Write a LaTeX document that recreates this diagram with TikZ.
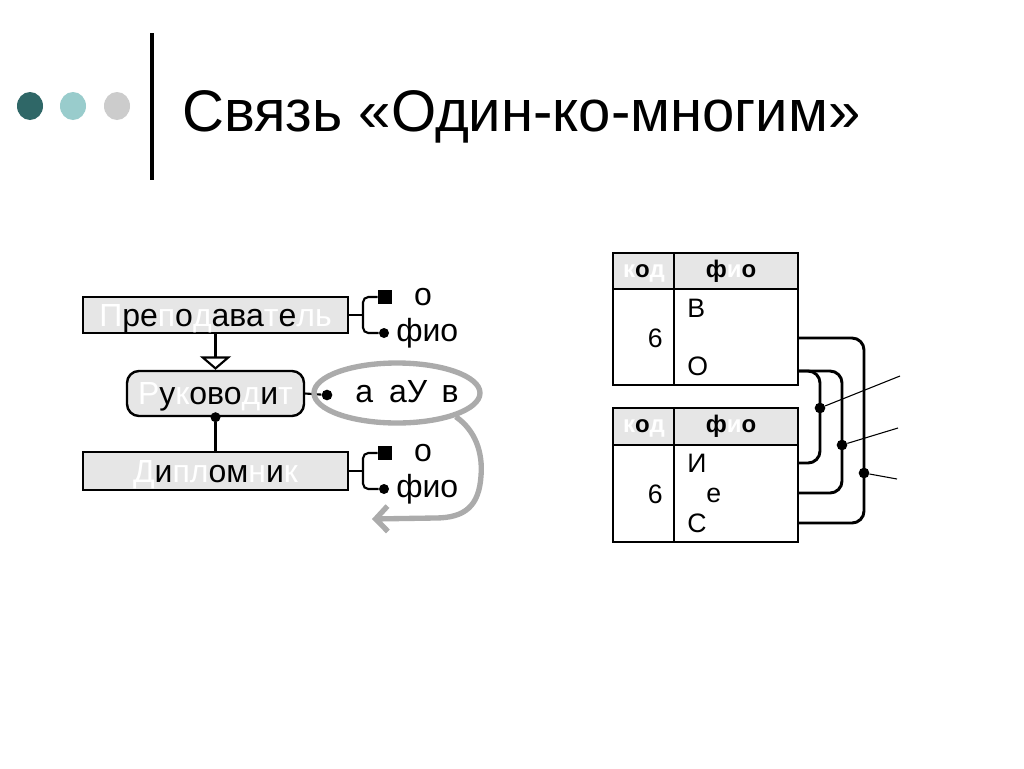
\documentclass[tikz,border=0pt]{standalone}
\usepackage{fontspec}
\setmainfont{Liberation Sans}
\usetikzlibrary{arrows.meta,shapes.geometric}
\definecolor{boxgray}{HTML}{E6E6E6}
\definecolor{ellgray}{HTML}{ABABAB}
\definecolor{dotA}{HTML}{2F6767}
\definecolor{dotB}{HTML}{99CCCC}
\definecolor{dotC}{HTML}{CCCCCC}
\newcommand\wt[1]{\textcolor{white}{#1}}
\tikzset{
  box/.style={draw, line width=1.8pt, fill=boxgray, inner sep=0pt,
    font=\fontsize{24}{28}\selectfont, text height=17pt, text depth=0pt},
  attr/.style={font=\fontsize{24}{28}\selectfont, inner sep=0pt},
  sq/.style={fill=black, minimum size=10.5pt, inner sep=0pt},
  dot/.style={circle, fill=black, minimum size=7.5pt, inner sep=0pt},
  tdot/.style={circle, fill=black, minimum size=8pt, inner sep=0pt},
  conn/.style={line width=1.6pt},
  tline/.style={line width=2.2pt, rounded corners=9pt},
  thin/.style={line width=0.8pt},
  tbody/.style={font=\fontsize{20}{24}\selectfont, inner sep=0pt},
  thead/.style={font=\fontsize{18}{21}\selectfont\bfseries, inner sep=0pt, anchor=base},
  tframe/.style={draw, line width=0.9pt},
  deco/.style={ellipse, inner sep=0pt, minimum width=19.5pt, minimum height=21pt}
}
\begin{document}
\begin{tikzpicture}[x=0.75pt,y=-0.75pt]
\useasboundingbox[fill=white] (0,0) rectangle (1024,768);

% title decorations
\node[deco, fill=dotA] (d1) at (30,106) {};
\node[deco, fill=dotB] (d2) at (73,106) {};
\node[deco, fill=dotC] (d3) at (117,106) {};
\draw[line width=3pt] (152,33) -- (152,180);
\node[anchor=base west, inner sep=0pt, font=\fontsize{44}{50}\selectfont, xscale=0.99] (title) at (182,131) {Связь «Один-ко-многим»};

% left diagram
\node[box, minimum width=198.75pt, minimum height=27pt] (prep) at (215.5,315)
  {\wt{П}ре\wt{п}о\wt{д}ава\wt{т}е\wt{ль}};
\node[box, rounded corners=9pt, minimum width=132.75pt, minimum height=33.75pt] (ruk) at (215.5,393.5)
  {\wt{Р}у\wt{к}ово\wt{д}и\wt{т}};
\node[box, minimum width=198.75pt, minimum height=28.5pt] (dip) at (215.5,471)
  {\wt{Д}и\wt{пл}ом\wt{н}и\wt{к}};

\draw[conn, -{Triangle[open, length=10pt, width=23pt, fill=white]}] (prep.south) -- (ruk.north);
\node[dot] (rdot) at (ruk.south) {};
\draw[conn] (rdot) -- (dip.north);

% attributes of Преподаватель
\coordinate (pj) at (363,315);
\node[sq] (psq) at (385,297) {};
\node[dot] (pdot) at (384,333) {};
\node[attr] (pko) at (423,297) {о};
\node[attr, anchor=west] (pfio) at (396,333) {фио};
\draw[conn] (prep.east) -- (pj);
\draw[conn, rounded corners=4pt] (psq.west) -| (pj) |- (pdot.west);

% attributes of Дипломник
\coordinate (dj) at (363,471);
\node[sq] (dsq) at (385,453) {};
\node[dot] (ddot) at (384,489) {};
\node[attr] (dko) at (423,453) {о};
\node[attr, anchor=west] (dfio) at (396,489) {фио};
\draw[conn] (dip.east) -- (dj);
\draw[conn, rounded corners=4pt] (dsq.west) -| (dj) |- (ddot.west);

% role ellipse
\node[dot, minimum size=8pt] (edot) at (327,395) {};
\draw[conn] (ruk.east) -- (edot);
\node[ellipse, draw=ellgray, line width=4pt, minimum width=124.5pt, minimum height=45pt, inner sep=0pt] (ell) at (397,393) {};
\node[attr, anchor=base west] (role) at (355,402) {а\hspace{0.5em}аУ\hspace{0.45em}в};
\draw[ellgray, line width=4pt, -{Straight Barb[length=9pt, width=19pt]}]
  (ell.-22) .. controls (475,430) and (483,452) .. (481,476)
  .. controls (479,506) and (465,518) .. (435,518) -- (372,519);

% right tables
% table 1
\fill[boxgray] (613,253) rectangle (798,289);
\node[tframe, inner sep=0pt, minimum width=138.75pt, minimum height=99pt] (t1) at (705.5,319) {};
\draw[tframe] (613,289) -- (798,289);
\draw[tframe] (674,253) -- (674,385);
\node[thead] (t1k) at (644,277) {\wt{к}о\wt{д}};
\node[thead] (t1f) at (731,277) {ф\wt{и}о};
\node[tbody, anchor=west] (t1a) at (687,308) {В};
\node[tbody, anchor=east] (t1n) at (663,338) {6};
\node[tbody, anchor=west] (t1b) at (687,366) {О};

% table 2
\fill[boxgray] (613,408) rectangle (798,445);
\node[tframe, inner sep=0pt, minimum width=138.75pt, minimum height=100.5pt] (t2) at (705.5,475) {};
\draw[tframe] (613,445) -- (798,445);
\draw[tframe] (674,408) -- (674,542);
\node[thead] (t2k) at (644,432) {\wt{к}о\wt{д}};
\node[thead] (t2f) at (731,432) {ф\wt{и}о};
\node[tbody, anchor=west] (t2a) at (687,463) {И};
\node[tbody, anchor=east] (t2n) at (663,494) {6};
\node[tbody, anchor=west] (t2e) at (706,495) {е};
\node[tbody, anchor=west] (t2b) at (687,523) {С};

% connectors between tables
\coordinate (a1) at (798,338);
\coordinate (a2) at (798,523);
\coordinate (b1) at (798,371);
\coordinate (b2) at (798,463);
\coordinate (c2) at (798,493);
\draw[tline] (a1) -- (864,338) -- (864,523) -- (a2);
\draw[tline] (b1) -- (820,371) -- (820,463) -- (b2);
\draw[tline] (b1) -- (842,371) -- (842,493) -- (c2);
\node[tdot] (k1) at (820,408) {};
\node[tdot] (k2) at (842,445) {};
\node[tdot] (k3) at (864,473) {};
\coordinate (e1) at (900,376);
\coordinate (e2) at (898,428);
\coordinate (e3) at (897,479);
\draw[thin] (k1) -- (e1);
\draw[thin] (k2) -- (e2);
\draw[thin] (k3) -- (e3);
\end{tikzpicture}
\end{document}
